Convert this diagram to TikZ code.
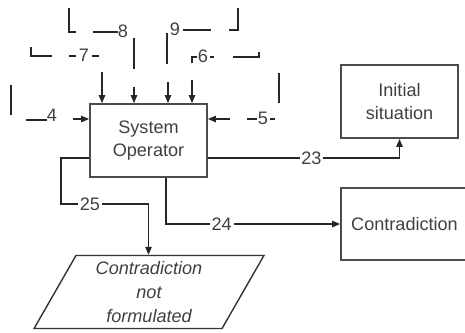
\documentclass[tikz,border=0pt]{standalone}
\usepackage{fontspec}
\setmainfont{Liberation Sans}
\usetikzlibrary{shapes.geometric, arrows.meta, positioning, calc}

\begin{document}
\begin{tikzpicture}[x=0.02cm, y=-0.02cm,
  every node/.style={font=\fontsize{10.3}{13.6}\selectfont, text=black!75},
  blk/.style={draw=black!70, line width=1pt, fill=white, align=center, minimum width=2.34cm, minimum height=1.46cm},
  slant/.style={trapezium, trapezium left angle=65, trapezium right angle=115, trapezium stretches=true, draw=black!80, line width=0.8pt, align=center, minimum width=4.6cm, minimum height=1.46cm, font=\fontsize{10.3}{13.6}\selectfont\itshape},
  arr/.style={draw=black!85, line width=0.8pt, -{Triangle[length=4.5pt,width=3.6pt]}},
  lne/.style={draw=black!85, line width=0.8pt},
  num/.style={fill=white, inner sep=1pt}
]
  \useasboundingbox (0,0) rectangle (465,332);

  \node[blk] (sysop) at (148.5,140.5) {System\\Operator};
  \node[blk] (init) at (399.5,101.5) {Initial\\situation};
  \node[blk, minimum width=2.54cm, minimum height=1.44cm] (contra) at (404.5,224) {Contradiction};
  \node[slant] (notform) at (149,292) {Contradiction\\not\\formulated};

  % inputs from above and the sides
  \foreach \xx/\yy/\nm in {102/72/ta, 134/87/tb, 168/82/tc, 192/80/td}
    \coordinate (\nm) at (\xx,\yy);
  \foreach \nm in {ta, tb, tc, td}
    \draw[arr] (\nm) -- (\nm |- sysop.north);
  \coordinate (lin) at (73,119);
  \coordinate (rin) at (230,119);
  \draw[arr] (lin) -- (lin -| sysop.west);
  \draw[arr] (rin) -- (rin -| sysop.east);

  % outputs
  \draw[arr] ($(sysop.east)+(0,17.5)$) -| node[num, pos=0.27] {23} (init.south);
  \draw[arr] ($(sysop.south)+(17.5,0)$) |- node[num, pos=0.66] {24} (contra.west);
  \coordinate (bend) at (61,204);
  \draw[arr] ($(sysop.west)+(0,17.5)$) -| (bend) -- node[num, pos=0.33] {25} (bend -| sysop.center) -- (notform.north -| sysop.center);

  % broken tunnel pieces
  \draw[lne] (69,8) -- (69,32) -- (76,32);
  \draw[lne] (93,32) -- (118,32);
  \node (n8) at (123,31) {8};
  \node (n9) at (175,29) {9};
  \draw[lne] (183,30) -- (211,30);
  \draw[lne] (238,8) -- (238,30) -- (229,30);
  \draw[lne] (31,47) -- (31,56) -- (52,56);
  \draw[lne] (69,56) -- (76,56);
  \node (n7) at (84,55) {7};
  \draw[lne] (92,56) -- (99,56);
  \draw[lne] (134,38) -- (134,69);
  \draw[lne] (167,33) -- (167,64);
  \draw[lne] (192,63) -- (192,57) -- (197,57);
  \node (n6) at (203,56) {6};
  \draw[lne] (210,57) -- (214,57);
  \draw[lne] (233,57) -- (259,57) -- (259,52);
  \draw[lne] (279,73) -- (279,103);
  \draw[lne] (11,85) -- (11,115);
  \draw[lne] (26,120) -- (47,120);
  \node (n4) at (52,115) {4};
  \draw[lne] (247,119) -- (257,119);
  \node (n5) at (263,118) {5};
  \draw[lne] (270,119) -- (275,119);
\end{tikzpicture}
\end{document}
